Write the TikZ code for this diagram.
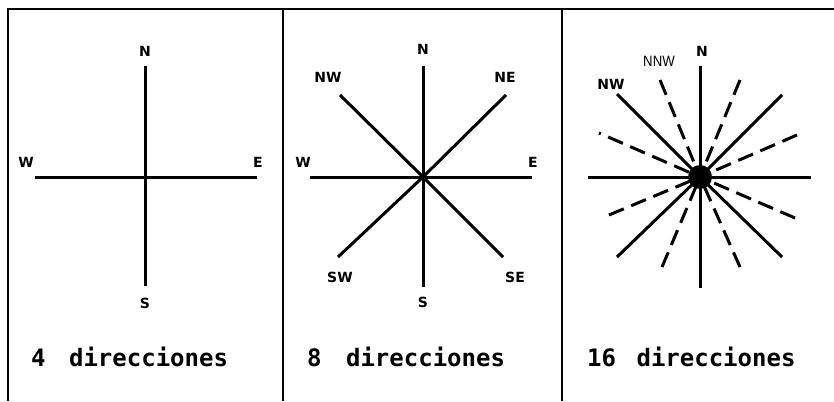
\documentclass[tikz,border=0pt]{standalone}
\usepackage{fontspec}
\setmainfont{Liberation Sans}
\newfontfamily\captfont{DejaVu Sans Mono}
\newfontfamily\lblfont{DejaVu Sans}
\begin{document}
\begin{tikzpicture}[x=1pt,y=-1pt,
  frame/.style={line width=2pt},
  divider/.style={line width=1.6pt},
  ray/.style={line width=3pt},
  dray/.style={ray, dash pattern=on 16pt off 8pt},
  lbl/.style={font=\lblfont\bfseries\fontsize{14}{14}\selectfont, anchor=base, inner sep=0pt},
  thinlbl/.style={font=\fontsize{15}{15}\selectfont, anchor=base, inner sep=0pt},
  capt/.style={font=\captfont\bfseries\fontsize{24}{24}\selectfont, anchor=base west, inner sep=0pt}]
\useasboundingbox (0,0) rectangle (834,401);
\fill[white] (0,0) rectangle (834,401);
% frame
\draw[frame] (8,401) -- (8,9.5) -- (834,9.5);
\draw[divider] (283,9.5) -- (283,401);
\draw[divider] (562,9.5) -- (562,401);

% ---------- panel 1 ----------
\coordinate (c1) at (145,177);
\coordinate (n1) at (145,66);
\coordinate (s1) at (145,286);
\coordinate (w1) at (35,177);
\coordinate (e1) at (257,177);
\draw[ray] (n1) -- (c1) -- (s1);
\draw[ray] (w1) -- (c1) -- (e1);
\node[lbl] (ln1) at (145,57) {N};
\node[lbl] (lw1) at (26,167) {W};
\node[lbl] (le1) at (258,167) {E};
\node[lbl] (ls1) at (145,308) {S};
\node[capt] (t1) at (31,366) {4\hspace{9pt} direcciones};

% ---------- panel 2 ----------
\coordinate (c2) at (423,177);
\coordinate (n2) at (423,66);
\coordinate (s2) at (423,287);
\coordinate (w2) at (310,177);
\coordinate (e2) at (532,177);
\coordinate (nw2) at (340,95);
\coordinate (ne2) at (506,95);
\coordinate (sw2) at (338,257);
\coordinate (se2) at (503,257);
\draw[ray] (n2) -- (c2) -- (s2);
\draw[ray] (w2) -- (c2) -- (e2);
\draw[ray] (nw2) -- (c2) -- (se2);
\draw[ray] (ne2) -- (c2) -- (sw2);
\fill (c2) circle (3.5);
\node[lbl] (ln2) at (423,55) {N};
\node[lbl] (lnw2) at (328,83) {NW};
\node[lbl] (lne2) at (505,83) {NE};
\node[lbl] (lw2) at (303,167) {W};
\node[lbl] (le2) at (533,167) {E};
\node[lbl] (lsw2) at (340,282) {SW};
\node[lbl] (lse2) at (515,282) {SE};
\node[lbl] (ls2) at (423,307) {S};
\node[capt] (t2) at (307,366) {8\hspace{10pt} direcciones};

% ---------- panel 3 ----------
\coordinate (c3) at (700,177);
\coordinate (n3) at (700,66);
\coordinate (s3) at (700,288);
\coordinate (w3) at (588,177);
\coordinate (e3) at (811,177);
\coordinate (nw3) at (617,94);
\coordinate (ne3) at (782,95);
\coordinate (sw3) at (617,257);
\coordinate (se3) at (782,257);
\coordinate (nnw3) at (660,80);
\coordinate (nne3) at (740,80);
\coordinate (wnw3) at (599,133);
\coordinate (ene3) at (797,135);
\coordinate (wsw3) at (609,215);
\coordinate (ese3) at (795,218);
\coordinate (ssw3) at (662,267);
\coordinate (sse3) at (740,267);
\draw[ray] (n3) -- (c3) -- (s3);
\draw[ray] (w3) -- (c3) -- (e3);
\draw[ray] (nw3) -- (c3) -- (se3);
\draw[ray] (ne3) -- (c3) -- (sw3);
\foreach \p in {nnw3,nne3,ene3,wsw3,ese3,ssw3,sse3}
  \draw[dray] (\p) -- (c3);
\draw[ray, dash pattern=on 2pt off 8pt on 16pt off 8pt on 16pt off 8pt on 16pt off 8pt on 16pt off 8pt] (wnw3) -- (c3);
\fill (c3) circle (12);
\node[lbl] (ln3) at (702,57) {N};
\node[thinlbl] (lnnw3) at (659,67) {\scalebox{0.88}[1]{NNW}};
\node[lbl] (lnw3) at (611,90) {NW};
\node[capt] (t3) at (587,366) {16\hspace{6pt} direcciones};
\end{tikzpicture}
\end{document}
